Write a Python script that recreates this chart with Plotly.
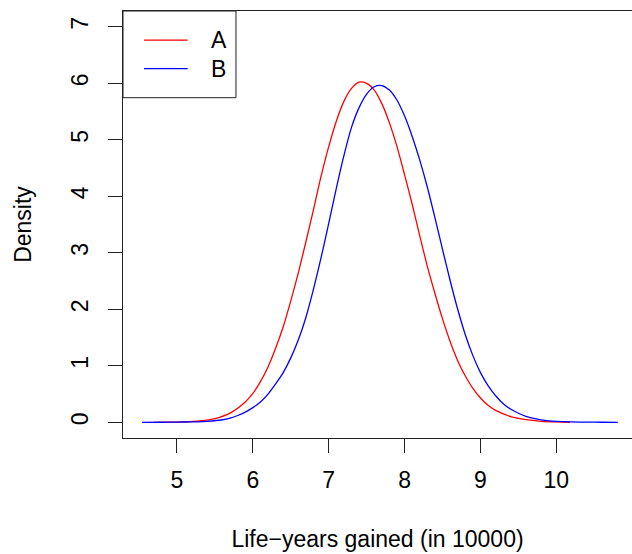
import plotly.graph_objects as go

# ---- data ----
series_names = ["A", "B"]
series_colors = ["#FF0000", "#0000FF"]

x_a = [4.69, 4.9, 5.1, 5.3, 5.5, 5.7, 5.9, 6.0, 6.1, 6.2, 6.3, 6.4, 6.5, 6.6, 6.7, 6.8,
       6.9, 7.0, 7.1, 7.2, 7.3, 7.4, 7.5, 7.6, 7.7, 7.8, 7.9, 8.0, 8.1, 8.2, 8.3,
       8.4, 8.5, 8.6, 8.7, 8.8, 8.9, 9.0, 9.1, 9.2, 9.4, 9.6, 9.8, 10.0, 10.18]
y_a = [0.0, 0.003, 0.008, 0.025, 0.067, 0.163, 0.36, 0.51, 0.72, 0.98, 1.31, 1.69, 2.15, 2.65, 3.20, 3.77,
       4.36, 4.88, 5.33, 5.68, 5.91, 6.02, 6.00, 5.88, 5.64, 5.30, 4.88, 4.38, 3.86, 3.30, 2.76,
       2.28, 1.83, 1.43, 1.09, 0.82, 0.60, 0.43, 0.30, 0.21, 0.10, 0.046, 0.018, 0.006, 0.0]

x_b = [4.54, 4.8, 5.0, 5.2, 5.4, 5.6, 5.7, 5.8, 5.9, 6.0, 6.1, 6.2, 6.3, 6.4, 6.5, 6.6,
       6.7, 6.8, 6.9, 7.0, 7.1, 7.2, 7.3, 7.4, 7.5, 7.6, 7.7, 7.8, 7.9, 8.0, 8.1, 8.2,
       8.3, 8.4, 8.5, 8.6, 8.7, 8.8, 8.9, 9.0, 9.1, 9.2, 9.3, 9.4, 9.5, 9.6, 9.7, 9.8,
       9.9, 10.0, 10.2, 10.4, 10.6, 10.81]
y_b = [0.0, 0.001, 0.003, 0.008, 0.018, 0.045, 0.075, 0.12, 0.18, 0.26, 0.36, 0.50, 0.68, 0.88, 1.14, 1.46,
       1.86, 2.36, 2.92, 3.52, 4.14, 4.72, 5.22, 5.57, 5.81, 5.94, 5.96, 5.88, 5.70, 5.42, 5.06, 4.64,
       4.16, 3.62, 3.06, 2.51, 2.00, 1.55, 1.18, 0.88, 0.65, 0.47, 0.33, 0.23, 0.16, 0.105, 0.068, 0.042,
       0.026, 0.016, 0.006, 0.002, 0.0008, 0.0]

x_ticks = [5, 6, 7, 8, 9, 10]
y_ticks = [0, 1, 2, 3, 4, 5, 6, 7]
x_title = "Life\u2212years gained (in 10000)"
y_title = "Density"

FONT = "Liberation Sans, Arial, Helvetica, sans-serif"

fig = go.Figure()
for xs, ys, name, col in [(x_a, y_a, series_names[0], series_colors[0]),
                          (x_b, y_b, series_names[1], series_colors[1])]:
    fig.add_trace(go.Scatter(x=xs, y=ys, mode="lines", name=name,
                             line=dict(color=col, width=1.3, shape="spline", smoothing=0.7),
                             showlegend=False, hoverinfo="skip"))

axis_common = dict(showgrid=False, zeroline=False, showline=True, linecolor="#222",
                   linewidth=1, ticks="outside", ticklen=14, tickwidth=1, tickcolor="#222",
                   tickfont=dict(family=FONT, size=23, color="black"))

fig.update_layout(
    width=632, height=554,
    margin=dict(l=123, r=0, t=11, b=116),
    paper_bgcolor="white", plot_bgcolor="white",
    xaxis=dict(range=[4.2887, 10.997], tickvals=x_ticks, ticktext=[str(t) for t in x_ticks],
               mirror=True, ticklabelstandoff=7,
               title=dict(text=x_title, font=dict(family=FONT, size=23, color="black"), standoff=39),
               **axis_common),
    yaxis=dict(range=[-0.278, 7.28], tickvals=y_ticks, ticktext=[str(t) for t in y_ticks],
               tickangle=-90, ticklabelstandoff=11,
               title=dict(text=y_title, font=dict(family=FONT, size=23, color="black"), standoff=28),
               **axis_common),
)

# legend box (top-left, like R's legend("topleft"))
fig.add_shape(type="rect", xref="paper", yref="paper", x0=0, x1=0.222, y0=0.797, y1=1,
              line=dict(color="#222", width=1), fillcolor="white", layer="above")
leg_y = [0.932, 0.865]
for i, name in enumerate(series_names):
    fig.add_shape(type="line", xref="paper", yref="paper", x0=0.0413, x1=0.1271,
                  y0=leg_y[i], y1=leg_y[i], line=dict(color=series_colors[i], width=1.3),
                  layer="above")
    fig.add_annotation(xref="paper", yref="paper", x=0.169, y=leg_y[i], text=name,
                       showarrow=False, xanchor="left", yanchor="middle",
                       font=dict(family=FONT, size=23, color="black"))

fig.write_html("out.html")
